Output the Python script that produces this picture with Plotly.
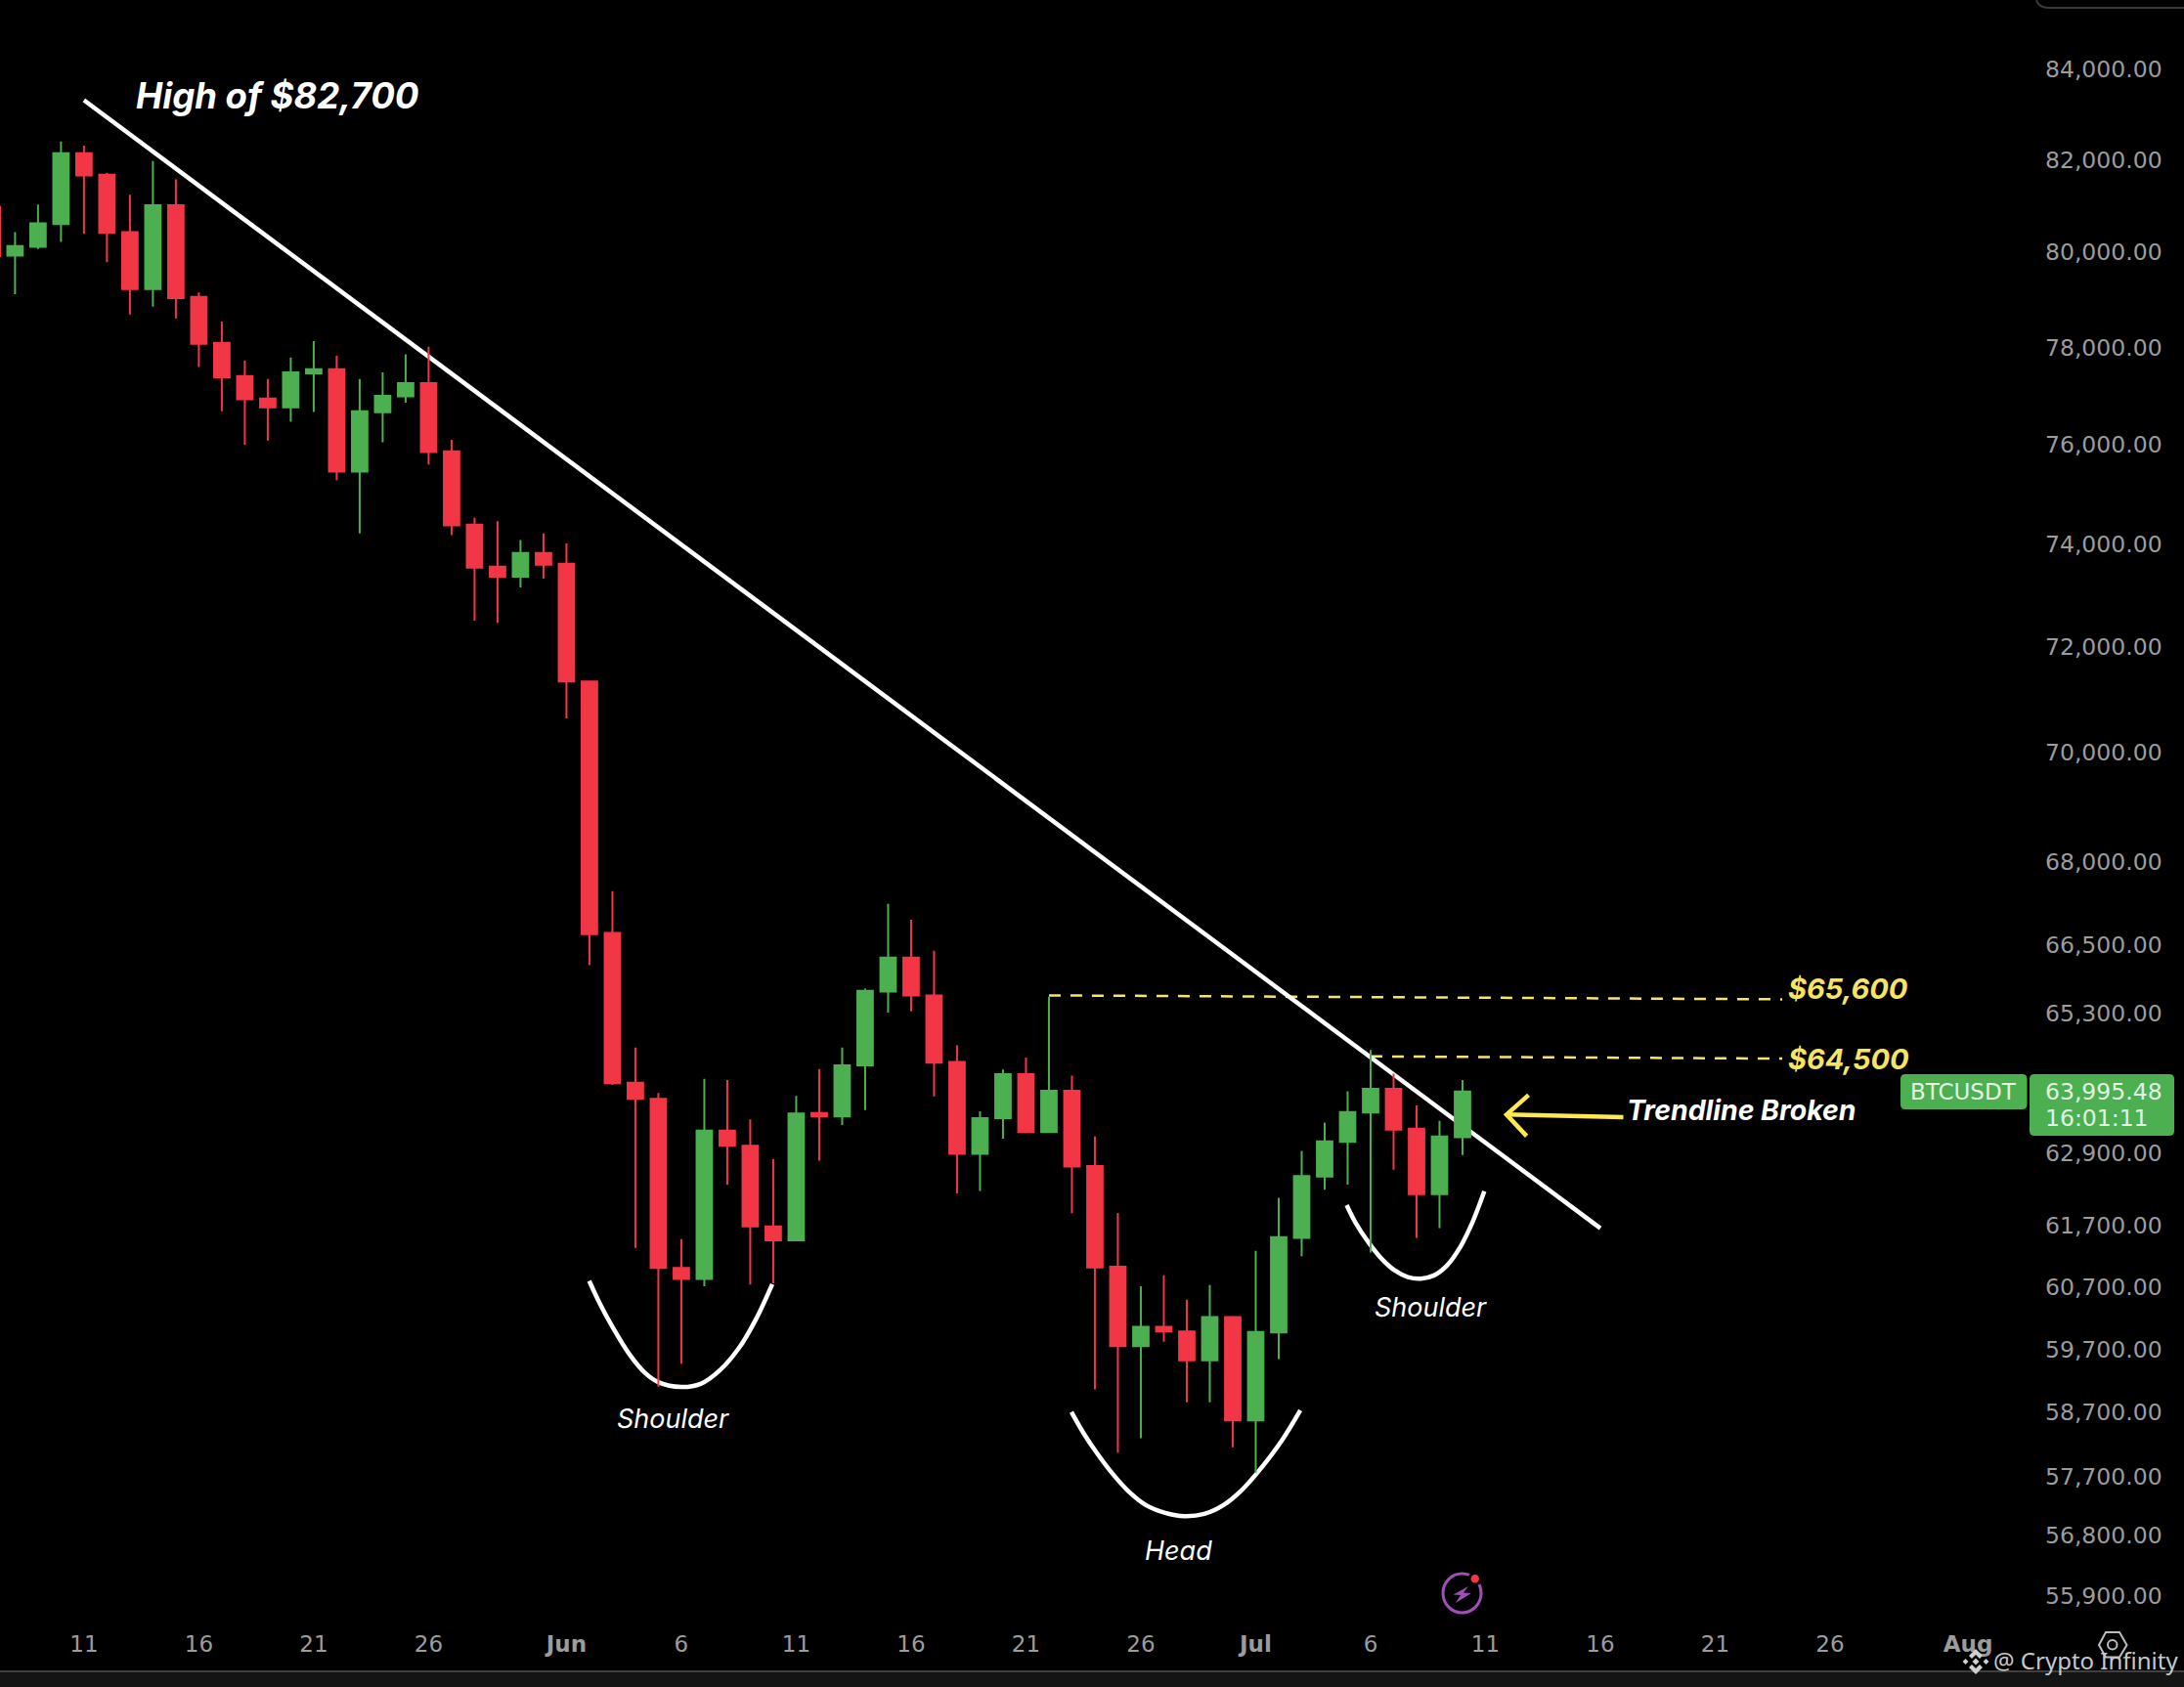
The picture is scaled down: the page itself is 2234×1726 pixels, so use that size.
import numpy as np
import pandas as pd
import plotly.graph_objects as go

# BTCUSDT daily candles
dates = pd.date_range("2024-05-08", "2024-07-10", freq="D")
opens = [79932, 80118, 80605, 82145, 81678, 80432, 79223, 81015, 79054, 78092, 77402, 76939,
         76757, 77460, 77546, 75452, 76657, 76983, 77255, 75865, 74393, 73564, 73370, 73832,
         73622, 71346, 66714, 64099, 63826, 61006, 60830, 63284, 63031, 61687, 61460, 63585,
         63527, 64395, 65679, 66275, 65610, 64454, 62895, 63497, 64247, 63262, 63960, 62688,
         61029, 59748, 60056, 59984, 59524, 60213, 58575, 59967, 61500, 62513, 63095, 63592,
         63993, 63320, 62220, 63173]
highs = [80432, 81030, 82405, 82313, 81717, 81239, 81975, 81576, 79148, 78536, 77729, 77342,
         77787, 78129, 77823, 77342, 77481, 77852, 78013, 76096, 74531, 74461, 74088, 74219,
         74020, 71346, 67462, 64705, 63924, 61479, 64167, 64147, 63477, 62808, 63876, 64335,
         64705, 65728, 67235, 66950, 66397, 64742, 63613, 64325, 64530, 65588, 64222, 63185,
         61909, 60712, 60887, 60494, 60729, 60226, 61287, 62162, 62942, 63421, 63952, 64661,
         64254, 63711, 63451, 64147]
lows = [79111, 80074, 80222, 80396, 79789, 78683, 78850, 78601, 77591, 76677, 75991, 76082,
        76465, 76663, 75283, 74219, 76046, 76856, 75599, 74185, 72510, 72463, 73156, 73330,
        70643, 66143, 64060, 61337, 59106, 59468, 60711, 62376, 60737, 60756, 61460, 62779,
        63381, 63633, 65311, 65330, 63866, 62234, 62273, 63148, 63238, 63262, 61904, 59062,
        58075, 58297, 59820, 58860, 58860, 58157, 57765, 59541, 61200, 62294, 62381, 61258,
        62629, 61500, 61661, 62872]
closes = [80135, 80620, 82145, 81662, 80417, 79223, 81015, 79031, 78072, 77379, 76925, 76757,
          77481, 77546, 75452, 76677, 76997, 77255, 75847, 74378, 73544, 73370, 73832, 73604,
          71346, 66693, 64089, 63826, 61006, 60830, 63284, 63031, 61687, 61460, 63575, 63527,
          64395, 65689, 66275, 65610, 64444, 62895, 63497, 64245, 63262, 63960, 62682, 61017,
          59748, 60056, 59984, 59524, 60213, 58575, 59973, 61513, 62524, 63102, 63598, 63993,
          63302, 62220, 63185, 63950]

last_price = 63975

price_ticks = [84000, 82000, 80000, 78000, 76000, 74000, 72000, 70000, 68000, 66500, 65300,
               62900, 61700, 60700, 59700, 58700, 57700, 56800, 55900]
date_ticks = ["2024-05-11", "2024-05-16", "2024-05-21", "2024-05-26", "2024-06-01", "2024-06-06",
              "2024-06-11", "2024-06-16", "2024-06-21", "2024-06-26", "2024-07-01", "2024-07-06",
              "2024-07-11", "2024-07-16", "2024-07-21", "2024-07-26", "2024-08-01"]
date_labels = ["11", "16", "21", "26", "<b>Jun</b>", "6", "11", "16", "21", "26", "<b>Jul</b>", "6",
               "11", "16", "21", "26", "<b>Aug</b>"]

# drawn annotations on the chart
trend_x = ["2024-05-11", "2024-07-16"]
trend_y = [83315, 61658]
level1_x = ["2024-06-22", "2024-07-23 22:00"]
level1_y = [65611, 65542]
level2_x = ["2024-07-06", "2024-07-23 22:00"]
level2_y = [64552, 64513]
left_arc_x = ["2024-06-01 23:46", "2024-06-02 10:30", "2024-06-03 00:15", "2024-06-03 17:15", "2024-06-04 10:20",
              "2024-06-05 00:00", "2024-06-05 23:45", "2024-06-06 20:10", "2024-06-07 16:35", "2024-06-08 13:00",
              "2024-06-09 06:00", "2024-06-09 23:00"]
left_arc_y = [60797, 60442, 60050, 59630, 59319, 59176, 59100, 59150, 59369, 59736, 60180, 60745]
head_arc_x = ["2024-06-22 23:30", "2024-06-23 12:15", "2024-06-24 02:00", "2024-06-24 18:45", "2024-06-25 11:45",
              "2024-06-26 04:50", "2024-06-27 01:25", "2024-06-27 21:50", "2024-06-28 18:15", "2024-06-29 14:40",
              "2024-06-30 11:00", "2024-07-01 07:25", "2024-07-02 03:50", "2024-07-02 22:35"]
head_arc_y = [58707, 58374, 58069, 57742, 57468, 57270, 57146, 57096, 57131, 57270, 57519, 57866, 58274, 58733]
right_arc_x = ["2024-07-04 23:00", "2024-07-05 08:30", "2024-07-05 22:00", "2024-07-06 11:45", "2024-07-07 01:25",
               "2024-07-07 14:55", "2024-07-08 04:30", "2024-07-08 18:15", "2024-07-09 07:40", "2024-07-09 21:20",
               "2024-07-10 09:20", "2024-07-10 22:50"]
right_arc_y = [62040, 61743, 61421, 61154, 60965, 60860, 60835, 60887, 61046, 61341, 61717, 62270]
arrow_x = ["2024-07-17", "2024-07-11 22:00", None, "2024-07-12 21:00", "2024-07-11 22:00", "2024-07-12 19:00"]
arrow_y = [63514, 63557, None, 63888, 63557, 63193]
edge_wick_x = ["2024-05-07 08:20", "2024-05-07 08:20"]
edge_wick_y = [81000, 79900]

GREEN = "#4CAF50"
RED = "#F23645"
YELLOW = "#F5E56B"
GREY = "#9C9C9C"
PURPLE = "#9E50B8"
TICK_FONT = "DejaVu Sans"
WIDTH, HEIGHT = 2234, 1726
PLOT_W, PLOT_H = 2076, 1660
x_range = ["2024-05-07 08:17", "2024-08-03 16:19"]
y_range = [np.log10(55500), np.log10(85574)]


def px(x):
    return x / PLOT_W


def py(y):
    return 1 - y / PLOT_H


def round_box(x0, y0, x1, y1, r=5):
    p = [(x0 + r, y0), (x1 - r, y0), (x1, y0), (x1, y0 + r), (x1, y1 - r), (x1, y1), (x1 - r, y1),
         (x0 + r, y1), (x0, y1), (x0, y1 - r), (x0, y0 + r), (x0, y0), (x0 + r, y0)]
    p = [f"{px(a):.5f},{py(b):.5f}" for a, b in p]
    return f"M{p[0]} L{p[1]} Q{p[2]} {p[3]} L{p[4]} Q{p[5]} {p[6]} L{p[7]} Q{p[8]} {p[9]} L{p[10]} Q{p[11]} {p[12]} Z"


def poly(points):
    return "M" + " L".join(f"{px(a):.5f},{py(b):.5f}" for a, b in points) + " Z"


def diamond(cx, cy, r):
    return poly([(cx, cy - r), (cx + r, cy), (cx, cy + r), (cx - r, cy)])


def add_line(fig, x, y, color="white", width=4, **line_kw):
    fig.add_trace(go.Scatter(x=x, y=y, mode="lines", hoverinfo="skip", showlegend=False,
                             line=dict(color=color, width=width, **line_kw)))


def add_text(fig, x, y, text, size, color="white", font="Inter"):
    fig.add_annotation(x=x, y=np.log10(y), text=text, showarrow=False, xanchor="center", yanchor="middle",
                       font=dict(family=font, size=size, color=color))


def add_px_text(fig, x, y, text, size, color, font=TICK_FONT):
    fig.add_annotation(x=px(x), y=py(y), xref="paper", yref="paper", text=text, showarrow=False,
                       xanchor="center", yanchor="middle", font=dict(family=font, size=size, color=color))


fig = go.Figure()

add_line(fig, edge_wick_x, edge_wick_y, color=RED, width=2)
add_line(fig, level1_x, level1_y, color=YELLOW, width=2.5, dash="12px,10px")
add_line(fig, level2_x, level2_y, color=YELLOW, width=2.5, dash="12px,10px")
add_line(fig, trend_x, trend_y, width=4.5)
add_line(fig, left_arc_x, left_arc_y, width=4.5, shape="spline")
add_line(fig, head_arc_x, head_arc_y, width=4.5, shape="spline")
add_line(fig, right_arc_x, right_arc_y, width=4.5, shape="spline")
add_line(fig, arrow_x, arrow_y, color="#FFE94F", width=4.5)

# candles sit on an overlaying axis pair so they stay above the drawn lines
fig.add_trace(go.Candlestick(
    x=dates, open=opens, high=highs, low=lows, close=closes,
    xaxis="x2", yaxis="y2", whiskerwidth=0, hoverinfo="skip", showlegend=False,
    increasing=dict(line=dict(color=GREEN, width=2), fillcolor=GREEN),
    decreasing=dict(line=dict(color=RED, width=2), fillcolor=RED),
))

add_text(fig, "2024-05-19 10:00", 83414, "<b><i>High of $82,700</i></b>", 36.5)
add_text(fig, "2024-06-05 15:00", 58600, "<i>Shoulder</i>", 27)
add_text(fig, "2024-06-27 15:00", 56570, "<i>Head</i>", 27)
add_text(fig, "2024-07-08 15:00", 60375, "<i>Shoulder</i>", 27)
add_text(fig, "2024-07-26 19:00", 65730, "<b><i>$65,600</i></b>", 29, color="#F7E463")
add_text(fig, "2024-07-26 19:00", 64500, "<b><i>$64,500</i></b>", 29, color="#F7E463")
add_text(fig, "2024-07-22 03:00", 63640, "<b><i>Trendline Broken</i></b>", 28.4)

add_px_text(fig, 2008, 1117, "BTCUSDT", 23, "#E3F2E4")
add_px_text(fig, 2152, 1117, "63,995.48", 23.5, "#E3F2E4")
add_px_text(fig, 2145, 1144, "16:01:11", 23.5, "#E3F2E4")
add_px_text(fig, 2133, 1699, "@ Crypto Infinity", 24, "#C8C8C8", font="Noto Sans")

shapes = [
    dict(type="line", xref="paper", yref="y", x0=0, x1=px(1944), y0=np.log10(last_price), y1=np.log10(last_price),
         line=dict(color="#8C9C8C", width=1.5, dash="dot"), layer="below"),
    dict(type="path", xref="paper", yref="paper", path=round_box(1944, 1099, 2073.5, 1135),
         fillcolor=GREEN, line=dict(width=0)),
    dict(type="path", xref="paper", yref="paper", path=round_box(2076, 1099, 2224, 1162),
         fillcolor=GREEN, line=dict(width=0)),
    # bottom bar
    dict(type="rect", xref="paper", yref="paper", x0=0, x1=px(WIDTH), y0=py(1710), y1=py(HEIGHT),
         fillcolor="#141414", line=dict(width=0)),
    dict(type="line", xref="paper", yref="paper", x0=0, x1=px(WIDTH), y0=py(1710), y1=py(1710),
         line=dict(color="#3F3F3F", width=2)),
    # corner of the panel at the top right
    dict(type="path", xref="paper", yref="paper",
         path=f"M{px(2083)},{py(0)} Q{px(2085)},{py(8)} {px(2096)},{py(8)} L{px(WIDTH)},{py(8)}",
         line=dict(color="#3A3A3A", width=2)),
    # lightning badge
    dict(type="circle", xref="paper", yref="paper", x0=px(1476), x1=px(1515), y0=py(1650), y1=py(1610),
         line=dict(color=PURPLE, width=3)),
    dict(type="circle", xref="paper", yref="paper", x0=px(1503), x1=px(1514.5), y0=py(1621), y1=py(1609.5),
         fillcolor=RED, line=dict(color="black", width=3)),
    dict(type="path", xref="paper", yref="paper",
         path=poly([(1502, 1623), (1486.5, 1631.5), (1494, 1632), (1489, 1640), (1505, 1630), (1497, 1629.5)]),
         fillcolor=PURPLE, line=dict(width=0)),
    # settings hexagon
    dict(type="path", xref="paper", yref="paper",
         path=poly([(2154, 1670), (2168, 1670), (2175.5, 1683), (2168, 1695.5), (2154, 1695.5), (2147, 1683)]),
         line=dict(color="#BDBDBD", width=2)),
    dict(type="circle", xref="paper", yref="paper", x0=px(2156), x1=px(2165.5), y0=py(1687.5), y1=py(1678),
         line=dict(color="#BDBDBD", width=2)),
    # watermark logo
    dict(type="path", xref="paper", yref="paper",
         path=poly([(2021, 1687), (2028, 1694), (2025, 1697), (2021, 1693), (2017, 1697), (2014, 1694)]),
         fillcolor="#CFCFCF", line=dict(width=0)),
    dict(type="path", xref="paper", yref="paper",
         path=poly([(2021, 1713), (2028, 1706), (2025, 1703), (2021, 1707), (2017, 1703), (2014, 1706)]),
         fillcolor="#CFCFCF", line=dict(width=0)),
]
for cx, cy, r in [(2021, 1700, 3.5), (2010.5, 1700, 3), (2031.5, 1700, 3)]:
    shapes.append(dict(type="path", xref="paper", yref="paper", path=diamond(cx, cy, r),
                       fillcolor="#CFCFCF", line=dict(width=0)))

fig.update_layout(
    width=WIDTH, height=HEIGHT, autosize=False,
    margin=dict(l=0, r=WIDTH - PLOT_W, t=0, b=HEIGHT - PLOT_H, pad=0),
    paper_bgcolor="black", plot_bgcolor="black",
    showlegend=False, boxgap=0.22, boxgroupgap=0.14, shapes=shapes,
    xaxis=dict(type="date", range=x_range, showgrid=False, zeroline=False, showline=False,
               tickmode="array", tickvals=date_ticks, ticktext=date_labels, ticks="", ticklabelstandoff=6,
               tickfont=dict(family=TICK_FONT, size=23, color=GREY), rangeslider=dict(visible=False)),
    yaxis=dict(type="log", range=y_range, side="right", showgrid=False, zeroline=False, showline=False,
               tickmode="array", tickvals=price_ticks, ticktext=[f"{v:,.2f}" for v in price_ticks],
               ticks="", ticklabelstandoff=15, tickfont=dict(family=TICK_FONT, size=23.5, color=GREY)),
    xaxis2=dict(type="date", range=x_range, overlaying="x", visible=False, rangeslider=dict(visible=False)),
    yaxis2=dict(type="log", range=y_range, overlaying="y", visible=False),
)

fig.write_html("out.html", config={"displayModeBar": False},
               post_script="document.body.style.margin='0';document.body.style.overflow='hidden';")
